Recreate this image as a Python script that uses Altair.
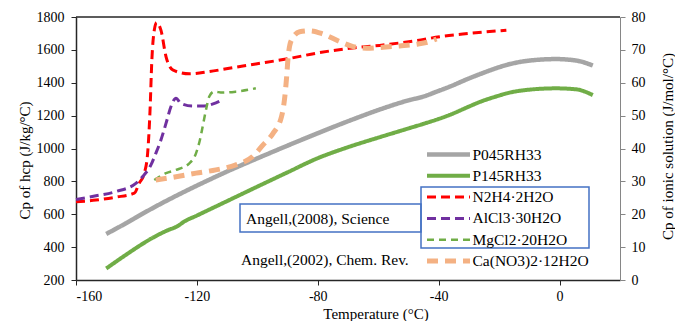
import altair as alt
import pandas as pd

# ---------------- data ----------------
# left axis: Cp of hcp (J/kg/°C)
p045_T = [-150, -143.5, -138.0, -131.3, -123.6, -115.9, -109.3, -100.5, -91.5, -80.4, -69.4,
          -58.4, -49.6, -45.2, -40.8, -36.4, -30.0, -26.4, -22.0, -17.6, -9.9, -1.1, 5.5, 11.0]
p045_Cp = [480, 545, 603, 670, 742, 810, 866, 936, 1006, 1090, 1170,
           1244, 1295, 1315, 1345, 1376, 1426, 1452, 1482, 1508, 1535, 1544, 1535, 1505]

p145_T = [-150, -145, -140, -135, -130, -126, -124.5, -120, -110, -100, -90, -80.4, -70, -60,
          -50, -45.2, -40, -36.4, -30, -26.4, -20, -17.6, -10, -1.1, 5.5, 11.0]
p145_Cp = [270, 334, 396, 453, 500, 532, 552, 592, 680, 768, 855, 938, 1008, 1066,
           1122, 1149, 1180, 1204, 1255, 1283, 1322, 1335, 1358, 1366, 1360, 1325]

# right axis: Cp of ionic solution (J/mol/°C)
n2h4_T = [-160, -153.4, -146.8, -140.7, -139.1, -137.4, -136.3, -135.5, -134.9, -134.1, -133.3,
          -131.9, -130.2, -128.0, -122.5, -115.9, -109.3, -100.5, -89.3, -80.4, -69.4, -58.4,
          -47.4, -39.7, -32.0, -17.6]
n2h4_R = [23.8, 24.3, 25.2, 26.4, 29.4, 32.5, 38.5, 51.7, 66.9, 76.0, 78.3,
          76.0, 67.9, 63.9, 62.7, 63.4, 64.4, 65.7, 67.4, 69.0, 70.5, 71.5,
          72.8, 74.0, 74.8, 76.0]

alcl3_T = [-160, -153.4, -146.8, -140.2, -138.0, -135.2, -133.6, -131.9, -130.2, -128.6, -126.9,
           -125.3, -121.4, -118.1, -113.7, -111.5]
alcl3_R = [24.5, 25.6, 26.9, 29.4, 31.4, 35.0, 38.5, 42.6, 47.7, 52.7, 55.3,
           53.7, 52.9, 52.9, 53.9, 54.8]

mgcl2_T = [-134.1, -130.2, -126.9, -122.5, -120.3, -119.0, -118.1, -117.0, -115.9, -114.3,
           -111.5, -107.1, -100.5]
mgcl2_R = [30.4, 32.5, 33.5, 35.5, 38.5, 42.6, 46.6, 51.7, 55.8, 57.3, 57.0, 57.3, 58.3]

cano3_T = [-133.6, -126.9, -120.3, -113.7, -107.1, -101.6, -98.1, -94.8, -92.0, -90.9, -90.3,
           -89.8, -88.7, -86.0, -82.6, -78.2, -72.7, -68.3, -63.9, -58.4, -52.9, -47.4, -43.0, -40.7]
cano3_R = [30.4, 31.4, 32.5, 33.5, 35.0, 37.5, 41.1, 44.6, 49.7, 55.8, 61.8,
           67.9, 73.0, 75.5, 75.8, 74.8, 72.5, 71.0, 70.5, 70.8, 71.2, 71.7, 72.5, 73.3]

series_names = ["P045RH33", "P145RH33", "N2H4·2H2O", "AlCl3·30H2O", "MgCl2·20H2O", "Ca(NO3)2·12H2O"]
x_ticks = [-160, -120, -80, -40, 0]
left_ticks = [200, 400, 600, 800, 1000, 1200, 1400, 1600, 1800]
right_ticks = [0, 10, 20, 30, 40, 50, 60, 70, 80]
x_title = "Temperature (°C)"
note_science = "Angell,(2008), Science"
note_chem = "Angell,(2002), Chem. Rev."

# ---------------- styles ----------------
FONT = "Liberation Serif"
W, H = 544, 263
styles = {
    "P045RH33": dict(color="#A5A5A5", strokeWidth=4.5, strokeDash=[1, 0]),
    "P145RH33": dict(color="#70AD47", strokeWidth=4.0, strokeDash=[1, 0]),
    "N2H4·2H2O": dict(color="#FF0000", strokeWidth=3.0, strokeDash=[9, 5]),
    "AlCl3·30H2O": dict(color="#7030A0", strokeWidth=3.0, strokeDash=[9, 5]),
    "MgCl2·20H2O": dict(color="#70AD47", strokeWidth=2.5, strokeDash=[7, 5]),
    "Ca(NO3)2·12H2O": dict(color="#F4B183", strokeWidth=5.0, strokeDash=[11, 7]),
}

neg = "datum.value < 0 ? '-' + abs(datum.value) : '' + datum.value"

x_enc = alt.X("T:Q", scale=alt.Scale(domain=[-160, 20], nice=False, zero=False),
              axis=alt.Axis(values=x_ticks, labelExpr=neg, title=None,
                            grid=False, domainColor="#262626", domainWidth=1.5,
                            tickColor="#262626", tickSize=5, tickWidth=1, labelPadding=4,
                            labelFont=FONT, labelFontSize=14, labelColor="black"))

left_axis = alt.Axis(values=left_ticks, format="d", title="Cp of hcp (J/kg/°C)", grid=False,
                     orient="left", domainColor="#262626", domainWidth=1.5,
                     tickColor="#262626", tickSize=5, labelPadding=7,
                     labelFont=FONT, labelFontSize=14, labelColor="black",
                     titleFont=FONT, titleFontSize=15, titleFontWeight="normal",
                     titleColor="black", titleX=-52, titleY=143, titleAngle=270,
                     titleAlign="center", titleBaseline="middle")
right_axis = alt.Axis(values=right_ticks, format="d", title="Cp of ionic solution (J/mol/°C)",
                      grid=False, orient="right", domainColor="#868686", domainWidth=1,
                      tickColor="#868686", tickSize=5, labelPadding=6,
                      labelFont=FONT, labelFontSize=14, labelColor="black",
                      titleFont=FONT, titleFontSize=15, titleFontWeight="normal",
                      titleColor="black", titleX=47, titleY=129, titleAngle=270,
                      titleAlign="center", titleBaseline="middle")


def line(name, T, vals, field, axis, domain):
    df = pd.DataFrame({"T": T, field: vals})
    s = styles[name]
    return alt.Chart(df).mark_line(interpolate="monotone", strokeCap="butt", **s).encode(
        x=x_enc,
        y=alt.Y(f"{field}:Q", scale=alt.Scale(domain=domain, nice=False, zero=False), axis=axis),
    )


left = alt.layer(
    line("P045RH33", p045_T, p045_Cp, "Cp", left_axis, [200, 1800]),
    line("P145RH33", p145_T, p145_Cp, "Cp", left_axis, [200, 1800]),
)
right = alt.layer(
    line("N2H4·2H2O", n2h4_T, n2h4_R, "R", right_axis, [0, 80]),
    line("AlCl3·30H2O", alcl3_T, alcl3_R, "R", right_axis, [0, 80]),
    line("MgCl2·20H2O", mgcl2_T, mgcl2_R, "R", right_axis, [0, 80]),
    line("Ca(NO3)2·12H2O", cano3_T, cano3_R, "R", right_axis, [0, 80]),
)

one = pd.DataFrame({"k": [0]})
deco = []
# top frame line
deco.append(alt.Chart(one).mark_rule(color="#262626", strokeWidth=1.5).encode(
    x=alt.value(0), x2=alt.value(W), y=alt.value(0)))
# x-axis title (placed as text so it sits where the reference has it)
deco.append(alt.Chart(one).mark_text(align="center", baseline="middle", font=FONT, fontSize=15,
                                     color="black").encode(
    x=alt.value(300), y=alt.value(H + 34), text=alt.value(x_title)))
# blue boxes
deco.append(alt.Chart(one).mark_rect(fill="white", fillOpacity=0, stroke="#4472C4", strokeWidth=1.5).encode(
    x=alt.value(164), x2=alt.value(345), y=alt.value(187), y2=alt.value(215)))
deco.append(alt.Chart(one).mark_rect(fill="white", fillOpacity=0, stroke="#4472C4", strokeWidth=1.5).encode(
    x=alt.value(345), x2=alt.value(513), y=alt.value(170), y2=alt.value(231)))
# notes
deco.append(alt.Chart(one).mark_text(align="left", baseline="middle", font=FONT, fontSize=15.5,
                                     color="black").encode(
    x=alt.value(170), y=alt.value(202), text=alt.value(note_science)))
deco.append(alt.Chart(one).mark_text(align="left", baseline="middle", font=FONT, fontSize=15.5,
                                     color="black").encode(
    x=alt.value(165), y=alt.value(243), text=alt.value(note_chem)))
# legend
for i, name in enumerate(series_names):
    yy = 137.5 + 21.3 * i
    s = styles[name]
    deco.append(alt.Chart(one).mark_rule(strokeCap="butt", **s).encode(
        x=alt.value(351), x2=alt.value(394), y=alt.value(yy)))
    deco.append(alt.Chart(one).mark_text(align="left", baseline="middle", font=FONT, fontSize=15.5,
                                         color="black").encode(
        x=alt.value(396.5), y=alt.value(yy), text=alt.value(name)))

chart = alt.layer(left, right, *deco).resolve_scale(y="independent").properties(
    width=W, height=H,
    autosize=alt.AutoSizeParams(type="none"),
    padding={"left": 68, "top": 9, "right": 55, "bottom": 41},
    background="white",
).configure_view(stroke=None)

chart.save("out.html", embed_options={"renderer": "svg", "actions": False})
